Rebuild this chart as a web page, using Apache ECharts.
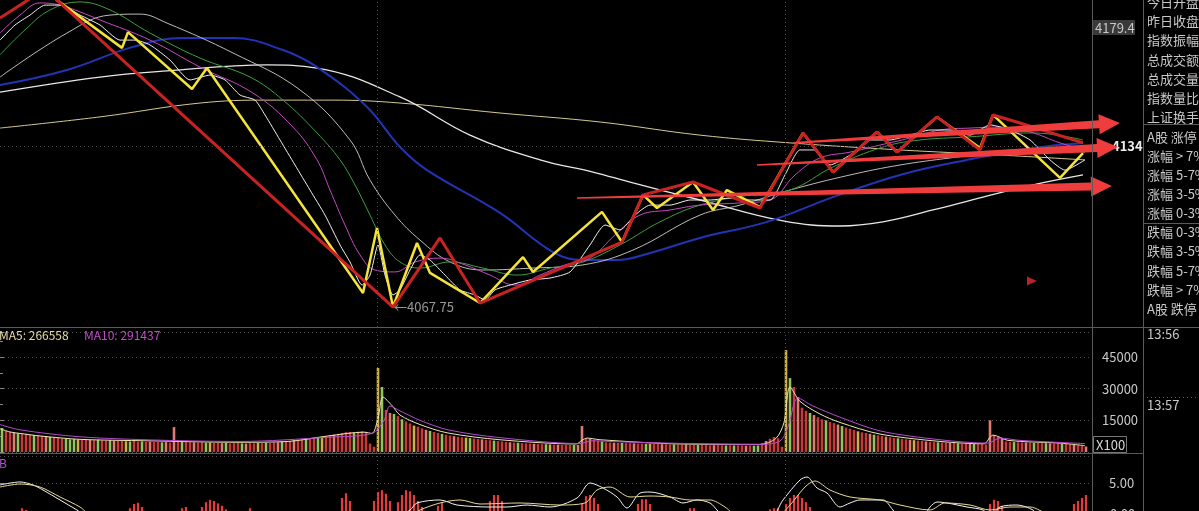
<!DOCTYPE html>
<html><head><meta charset="utf-8">
<script src="https://cdn.jsdelivr.net/npm/echarts@6/dist/echarts.min.js"></script>
<style>html,body{margin:0;padding:0;background:#000;overflow:hidden}#c{width:1199px;height:511px}</style>
</head><body><div id="c"></div>
<script>
// ---------- price panel (x = bar index, y = index points) ----------
const maBeige=[[0,4141.4],[25,4146.0],[50,4151.7],[66.75,4152.9],[83.25,4152.9],[100,4151.7],[125,4147.6],[150,4143.9],[175,4138.5],[197.5,4135.3],[225,4132.4],[250,4130.3],[271.25,4128.3]];
const maWhiteLong=[[0,4156.2],[25,4162.4],[41.75,4164.9],[66.75,4167.4],[79.25,4166.1],[100,4154.2],[117.5,4138.5],[135,4128.3],[148.25,4123.3],[158.25,4118.8],[175,4111.8],[195.75,4103.2],[210,4101.1],[220.75,4102.8],[233.25,4107.7],[245.75,4113.0],[258.25,4118.0],[270.75,4122.1]];
const maWhiteMid=[[0,4162.4],[16.75,4180.5],[27.5,4187.9],[35,4188.3],[41.75,4184.6],[58.25,4172.3],[75,4157.1],[87.5,4136.5],[92.5,4120.0],[98.75,4105.6],[105,4095.3],[112.5,4086.3],[120.75,4083.0],[133.25,4083.8],[145.75,4085.1],[158.25,4091.2],[175,4105.6],[185,4109.7],[197.5,4115.9],[212.5,4122.1],[225,4126.2],[237.5,4129.1],[250,4131.5],[262.5,4132.4],[271.25,4131.5]];
const maBlue=[[0,4159.1],[16.75,4165.3],[33.25,4174.8],[45.75,4178.5],[58.25,4178.5],[70.75,4173.5],[79.25,4166.5],[91.75,4150.1],[100,4133.6],[106.75,4124.1],[125,4106.5],[138.25,4090.4],[145.75,4087.1],[154.25,4087.1],[162.5,4090.0],[175,4096.2],[191.75,4102.8],[208.25,4113.0],[225,4122.1],[241.75,4128.3],[258.25,4133.2],[270.75,4135.3]];
const maGreen=[[0,4171.5],[6.25,4181.8],[12.5,4190.0],[20,4193.3],[27.5,4190.0],[37.5,4180.5],[50,4170.2],[62.5,4162.4],[70.75,4152.9],[79.25,4139.4],[85,4128.3],[88.75,4118.0],[92.5,4105.6],[96.25,4093.3],[100,4086.3],[105,4083.8],[112.5,4086.3],[120.75,4083.8],[129.25,4080.9],[137.5,4083.8],[145.75,4086.3],[155,4093.3],[165,4102.8],[175,4109.7],[187.5,4113.9],[197.5,4115.9],[208.25,4125.4],[220.75,4133.6],[230,4136.5],[241.75,4137.7],[258.25,4139.4],[270.75,4136.5]];
const maPurple=[[0,4180.5],[5,4187.9],[10,4192.9],[15,4192.0],[20,4189.2],[25,4185.9],[37.5,4177.6],[50,4166.5],[63.25,4155.8],[73.25,4141.8],[79.25,4128.3],[82.5,4115.9],[86.25,4101.5],[90,4089.2],[93.75,4083.0],[98.75,4082.2],[103.75,4086.3],[110,4087.9],[116.25,4085.1],[122.5,4080.9],[128.75,4076.8],[135,4080.9],[141.25,4085.1],[147.5,4087.9],[153.75,4097.4],[160,4105.6],[167.5,4107.7],[175,4109.7],[185,4110.6],[192.5,4111.8],[198.75,4122.1],[205,4129.1],[212.5,4131.5],[220,4134.4],[227.5,4137.3],[235,4140.6],[242.5,4141.4],[250,4141.8],[257.5,4139.8],[265,4135.3],[271.25,4132.4]];
const priceLine=[[0,4177.6],[3.75,4183.8],[7.5,4187.9],[11.25,4192.0],[15,4192.0],[20,4187.9],[25,4183.8],[30,4177.6],[33.75,4177.6],[37.5,4175.6],[42.5,4169.4],[47.5,4161.2],[52.5,4163.2],[56.25,4161.2],[60,4155.0],[63.75,4152.9],[66.25,4146.8],[70,4136.5],[73.75,4126.2],[77.5,4115.9],[81.25,4105.6],[85,4093.3],[87.5,4086.3],[90.5,4076.8],[92.5,4080.9],[94.5,4093.3],[96.25,4080.9],[98.25,4072.7],[100,4074.8],[102.5,4083.0],[105,4089.2],[107.5,4087.1],[111.25,4080.9],[115,4074.8],[118.75,4072.7],[121.25,4070.7],[123.75,4074.8],[127.5,4076.8],[132.5,4078.9],[137.5,4079.7],[142.5,4082.2],[147.5,4093.3],[151.25,4101.5],[155,4099.5],[158.75,4105.6],[162.5,4109.7],[167.5,4109.7],[172.5,4111.8],[177.5,4111.8],[182.5,4112.6],[187.5,4111.8],[192.5,4111.8],[196.25,4122.1],[200,4132.4],[203.75,4132.4],[207.5,4126.2],[212.5,4130.3],[217.5,4136.5],[222.5,4136.5],[227.5,4138.5],[232.5,4140.6],[237.5,4140.6],[242.5,4138.5],[247.5,4142.7],[252.5,4140.6],[257.5,4136.5],[262.5,4128.3],[266.25,4124.1],[271.25,4128.3]];
const strokeYellow=[[12.5,4196.2],[30.5,4174.4],[32,4180.9],[48,4157.5],[51.75,4166.1],[90.75,4073.5],[94.25,4100.3],[98.25,4067.75],[104.25,4094.1],[107.5,4081.8],[120,4069.4],[130.75,4088.3],[133.25,4082.2],[150.5,4106.9],[155.5,4094.5],[160.75,4113.9],[164.25,4108.5],[173.25,4119.2],[178.25,4107.7],[181.75,4115.9],[190,4108.9],[200.75,4139.4],[208.25,4123.3],[219.25,4139.8],[224.25,4131.5],[234.25,4146.0],[245,4133.2],[248.25,4146.8],[265,4120.9],[270.75,4131.1]];
const strokeRed=[[12.5,4196.7],[98.25,4067.75],[110,4096.2],[120,4069.4],[155.5,4094.5],[160.75,4113.9],[173.25,4119.2],[190,4108.5],[200.75,4139.4],[208.25,4123.3],[219.25,4139.8],[224.25,4131.5],[234.25,4146.0],[245,4132.4],[248.25,4146.8],[255,4143.5],[270.75,4135.3]];
const strokeRedTop=[[0,4186.7],[7,4194.1],[8.75,4196.6]];
const arrows=[[198.25,4135.3,280,4143.5],[189.25,4126.2,279.5,4133.6],[144.25,4112.6,278,4117.6]];
const lowPoint=[98.25,4067.75];
const lowLabel='←4067.75';
const lastLabel=4134;
const topLabel='4179.4';
const marker=[258,4078.5];
const dayStarts=[94.25,196.25];

// ---------- volume panel ----------
const volume=[11400,10000,9500,9000,8800,8500,8600,8200,8000,7800,7600,7400,7200,7000,6800,
6400,6200,6000,6100,5900,5800,6000,5700,5600,5800,5500,5400,5600,5300,5200,5400,5100,5000,5200,4900,5000,4800,4900,
4700,4800,4600,4700,4500,11800,
5200,5000,4800,4700,4600,4500,4600,4400,4500,4300,4400,4200,4300,4100,4200,4300,4100,4000,4200,4100,4300,4200,4400,4300,4500,4600,4800,5000,5200,
5600,5900,6200,6400,6600,6800,7000,7200,7500,7800,
8200,8600,9000,9400,9500,9200,9600,9800,9400,
4000,2500,39800,30800,20000,18500,18000,17000,15500,14500,13500,
12500,12000,11200,10500,10000,9500,9000,8600,8200,7800,
7500,7200,7000,6800,6600,6400,6200,6000,5800,5600,5400,5200,5000,
4800,4600,4500,4400,4200,4100,4000,3900,3800,3700,3700,3600,3500,3500,3400,3400,3300,3300,3400,
12300,6600,6200,5800,5400,5000,
4600,4500,4400,4300,4300,4200,4200,4100,4000,4000,3900,3900,3800,3800,3700,3700,3600,3600,3500,3500,3500,3400,3400,3300,3300,
3300,3200,3200,3300,3200,3100,3200,3100,3200,3100,3000,3100,3000,3100,
4200,5200,6200,7100,6500,2500,48300,35000,30800,26000,
21000,19500,18500,17500,16500,15500,15000,14200,
13700,13000,12300,11600,11000,10400,9800,9300,9000,8600,
8200,7900,7600,7300,7000,6700,6500,6200,6000,5800,5600,5400,5200,
5000,4800,4700,4600,4500,4400,4300,4200,4100,4000,3900,3900,3800,3800,3700,3600,
15000,8000,7200,6600,
5000,4800,4700,4600,4500,4500,4400,4300,4300,4200,4200,4100,4000,4000,3900,3800,3700,3500,3200,3000,2600];
const volumeColors='grrpgrrrgrrpgrr'+'rgggyrrprgrrgprrygrrgrp'+'rrgpr'+'p'+'rgrrprrgyrrpgrrrgprryrgrrpgrr'+'prrgrrgyrr'+'prrrrgrrr'+'rr'+'y'+'g'+'rpgr'+'grr'+'yrrpgrrgrr'+'prrygrrprrgrr'+'rprgrrrprrgyrprrrgp'+'p'+'rprrg'+'rrprgrrprrgyrrprrgrrprrgr'+'rrprrgrgrrprgg'+'rprrr'+'r'+'y'+'g'+'rp'+'rrgprrgr'+'rpgrrryrrp'+'grrprrgrrpyrr'+'prrgrrprgrrpgrrr'+'p'+'rrp'+'rrgrrprgrrgprrgrrprrp';
const volMa5=[[0,11000],[2.5,9500],[5,8800],[10,7600],[20,6000],[37,5300],[60,4600],[72,5000],[82,7600],[91,9400],[93,8800],[94.5,16000],[95.75,26000],[98,22000],[100,17500],[105,13000],[112,9000],[125,5800],[144,3800],[145.5,5500],[146.75,6600],[150,5800],[170,3800],[190,3600],[194,6500],[196,14000],[197.5,30800],[200,24000],[205,18000],[210,14000],[220,8500],[235,5000],[246,3900],[247.5,7000],[248.25,8000],[252,5500],[265,4200],[271.25,3000]];
const volMa10=[[0,13000],[5,10500],[20,7200],[40,5600],[60,5000],[82,7000],[93,8800],[96,15000],[97.5,21800],[100,19500],[105,15000],[112,10500],[125,6800],[145,4000],[148,5300],[155,4800],[170,4100],[190,3600],[195,5200],[197,12000],[199.5,25600],[203,22000],[210,16500],[220,10000],[235,5800],[247,4200],[250,6600],[255,5500],[271.25,4000]];
const volLegend=['MA5: 266558','MA10: 291437'];

// ---------- MACD panel ----------
const macdHist=[[5,0.8],[6,0.5],[32,0.8],[33,1.5],[34,1.7],[35,1.0],[45,0.8],[46,1.0],[50,1.0],[51,1.8],[52,2.2],[53,2.0],[54,1.6],[55,1.2],[56,0.6],[62,0.8],[85,2.5],[86,3.3],[87,2.0],[93,2.0],[94,3.5],[95,3.8],[96,3.2],[97,2.0],[99,1.8],[100,3.0],[101,3.8],[102,3.6],[103,3.0],[104,2.0],[105,1.0],[109,1.2],[110,1.7],[122,2.0],[123,3.0],[124,3.0],[125,2.0],[145,1.5],[146,2.8],[147,3.0],[148,2.5],[149,1.5],[159,1.5],[160,2.3],[161,2.3],[162,1.5],[172,0.8],[173,0.8],[192,0.6],[193,0.8],[194,0.8],[196,1.5],[197,2.5],[198,3.0],[199,3.0],[200,2.5],[201,1.8],[202,1.0],[247,1.5],[248,2.2],[249,2.0],[250,1.2],[268,1.5],[269,2.0],[270,2.5],[271,3.0]];
const macdDif=[[0,4.67],[5,5.17],[8.25,4.67],[10.75,3.83],[15,2.17],[19.25,0.5],[22.5,-0.8],[98.75,-0.8],[102.5,0.5],[104.25,1.67],[110,2.17],[114.25,1.33],[122.5,1.0],[126.75,1.0],[131.75,1.33],[137.5,1.0],[144.25,2.5],[147.5,5.0],[150.75,4.17],[154.25,2.67],[156.75,0.83],[160,3.33],[162.5,3.5],[167.5,2.67],[170.75,1.67],[174.25,2.17],[177.5,1.67],[179.25,0.5],[181.25,-0.8],[192.5,-0.8],[195.75,2.17],[200,5.5],[201.75,6.0],[204.25,4.17],[206.75,3.33],[210,1.0],[212.5,1.67],[215,2.17],[220.75,2.17],[223.25,0.5],[225,-0.8],[230.5,-0.8],[232.5,1.0],[234.25,1.83],[236.75,1.67],[241.75,1.0],[245.75,0.5],[247.5,-0.5],[250,1.0],[254.25,1.33],[258.25,0.5],[260,-0.8],[271.25,-0.8]];
const macdDea=[[0,4.33],[5,4.83],[10,4.33],[15,2.67],[20,1.0],[23.75,-0.8],[101.25,-0.8],[105,0.5],[110,1.67],[115,2.17],[120,1.5],[130,1.67],[140,1.33],[146.25,1.67],[149.25,3.83],[152.5,4.33],[157.5,2.67],[162.5,2.83],[167.5,2.67],[172.5,2.17],[177.5,2.17],[181.25,1.0],[185,-0.8],[193.75,-0.8],[197.5,1.33],[201.25,4.33],[203.75,5.33],[207.5,3.83],[212.5,2.67],[220,2.17],[225,1.33],[232.5,0.5],[236.25,1.67],[242.5,1.33],[247.5,0.5],[252.5,1.0],[257.5,1.0],[262.5,-0.3],[271.25,-0.8]];
const macdZeroLabel='0.00';

// ---------- side panel ----------
const infoRows1=['今日开盘','昨日收盘','指数振幅','总成交额','总成交量','指数量比','上证换手'];
const infoRows2=['A股 涨停','涨幅 > 7%','涨幅 5-7%','涨幅 3-5%','涨幅 0-3%'];
const infoRows3=['跌幅 0-3%','跌幅 3-5%','跌幅 5-7%','跌幅 > 7%','A股 跌停'];
const timeRows=['13:56','13:57'];

// ================= build =================
const FONT='"Noto Sans CJK SC","Noto Sans",sans-serif';
const pal={r:'#c63a3a',p:'#e27a72',g:'#8fc45e',y:'#cdb04c'};
const volData=volume.map((v,i)=>({value:[i+0.5,v],itemStyle:{color:pal[volumeColors[i]]||pal.r}}));
const histData=macdHist.map(d=>[d[0]+0.5,d[1]]);
const dotted={type:[1,3],color:'#4a4a4a',width:1};
function vlines(){return {silent:true,symbol:'none',label:{show:false},lineStyle:dotted,data:dayStarts.map(x=>({xAxis:x}))};}
function L(data,color,width,z,smooth){return {type:'line',data:data,xAxisIndex:0,yAxisIndex:0,showSymbol:false,smooth:smooth===undefined?0.4:smooth,lineStyle:{color:color,width:width},itemStyle:{color:color},z:z||2,silent:true};}

const graphic=[];
function gl(x1,y1,x2,y2,c,dash){graphic.push({type:'line',silent:true,shape:{x1:x1,y1:y1,x2:x2,y2:y2},style:{stroke:c,lineWidth:1,lineDash:dash||null},z:50});}
function gt(t,x,y,c,size,align){graphic.push({type:'text',silent:true,x:x,y:y,style:{text:t,fill:c,font:(size||13)+'px '+FONT,verticalAlign:'middle',align:align||'left'},z:60});}
gl(1092.5,0,1092.5,511,'#5a5a5a');
gl(1143.5,0,1143.5,511,'#5a5a5a');
gl(0,327.5,1199,327.5,'#5a5a5a');
gl(0,453.5,1143,453.5,'#5a5a5a');
gl(1143,124.5,1199,124.5,'#5a5a5a');
gl(1143,223.5,1199,223.5,'#5a5a5a');
gl(1143,397.5,1199,397.5,'#555',[1,3]);
graphic.push({type:'rect',silent:true,shape:{x:1093,y:20,width:42,height:15},style:{fill:'#3a3a3a'},z:55});
gt(topLabel,1095,28,'#c8c8c8',13);
graphic.push({type:'rect',silent:true,shape:{x:1093.5,y:436.5,width:33,height:16},style:{fill:'#000',stroke:'#777',lineWidth:1},z:55});
gt('X100',1096,445,'#d8d8d8',13);
gt(macdZeroLabel,1110,514,'#c8c8c8',13);
infoRows1.forEach((t,k)=>gt(t,1147,2+k*19.2,'#c8c8c8',13));
infoRows2.forEach((t,k)=>gt(t,1147,137+k*19.1,'#c8c8c8',13));
infoRows3.forEach((t,k)=>gt(t,1147,232+k*19.3,'#c8c8c8',13));
gt(timeRows[0],1147,334,'#c8c8c8',13);
gt(timeRows[1],1147,405,'#c8c8c8',13);
gt(volLegend[0],-1,335,'#e6dca8',12);
gt(volLegend[1],84,335,'#c84ad0',12);
gt('B',-1,463,'#b050d0',12);

const option={
  backgroundColor:'#000',
  animation:false,
  textStyle:{fontFamily:FONT},
  grid:[
    {left:0,top:0,width:1092,height:327,outerBoundsMode:'none',containLabel:false},
    {left:0,top:332,width:1092,height:120,outerBoundsMode:'none',containLabel:false},
    {left:0,top:456,width:1092,height:57,outerBoundsMode:'none',containLabel:false}
  ],
  xAxis:[0,1,2].map(g=>({type:'value',gridIndex:g,min:0,max:273,show:false})),
  yAxis:[
    {type:'value',gridIndex:0,min:4059.54,max:4194.1,show:false,splitLine:{show:false}},
    {type:'value',gridIndex:1,min:0,max:56850,interval:15000,position:'right',
      axisLine:{show:false},axisTick:{show:true,length:4,lineStyle:{color:'#888'}},
      minorTick:{show:true,splitNumber:2,length:3,lineStyle:{color:'#888'}},
      axisLabel:{color:'#c8c8c8',fontSize:13,margin:10,showMaxLabel:false,formatter:v=>v===0?'':String(v)},
      splitLine:{show:true,lineStyle:dotted}},
    {type:'value',gridIndex:2,min:0,max:9.5,interval:5,position:'right',
      axisLine:{show:false},axisTick:{show:true,length:4,lineStyle:{color:'#888'}},
      axisLabel:{color:'#c8c8c8',fontSize:13,margin:17,showMaxLabel:false,showMinLabel:false,formatter:v=>v.toFixed(2)},
      splitLine:{show:true,lineStyle:dotted}}
  ],
  graphic:graphic,
  series:[
    Object.assign(L(maBeige,'#d6c890',1,2),{markLine:{silent:true,symbol:'none',lineStyle:dotted,
      label:{show:true,position:'end',distance:20,color:'#eeeeee',fontSize:13,fontWeight:'bold',formatter:String(lastLabel)},
      data:[{yAxis:lastLabel}].concat(dayStarts.map(x=>({xAxis:x,label:{show:false}})))}}),
    L(maWhiteLong,'#e8e8e8',1.3,2),
    L(maBlue,'#2234b4',2,2),
    L(maWhiteMid,'#d0d0d0',0.9,2),
    L(maGreen,'#3e9e3e',1,2),
    L(maPurple,'#c448c4',1,2),
    L(priceLine,'#f2eeee',1,3,0.2),
    L(strokeYellow,'#f4e43a',2.5,4,false),
    L(strokeRed,'#c92222',3,5,false),
    L(strokeRedTop,'#c92222',3,5,false),
    {type:'custom',xAxisIndex:0,yAxisIndex:0,z:8,silent:true,clip:false,data:arrows,
      renderItem:function(params,api){
        const s=api.coord([api.value(0),api.value(1)]);
        const e=api.coord([api.value(2),api.value(3)]);
        const dx=e[0]-s[0],dy=e[1]-s[1],len=Math.sqrt(dx*dx+dy*dy);
        const ux=dx/len,uy=dy/len,nx=-uy,ny=ux;
        const hl=21,hw=10,w0=0.8,w1=4;
        const bx=e[0]-ux*hl,by=e[1]-uy*hl;
        return {type:'polygon',shape:{points:[
          [s[0]+nx*w0,s[1]+ny*w0],[bx+nx*w1,by+ny*w1],[bx+nx*hw,by+ny*hw],[e[0],e[1]],
          [bx-nx*hw,by-ny*hw],[bx-nx*w1,by-ny*w1],[s[0]-nx*w0,s[1]-ny*w0]]},
          style:{fill:'#ef3d3d'}};
      }},
    {type:'scatter',xAxisIndex:0,yAxisIndex:0,z:9,silent:true,data:[marker],symbol:'triangle',symbolRotate:-90,symbolSize:[9,10],itemStyle:{color:'#e03030'}},
    {type:'scatter',xAxisIndex:0,yAxisIndex:0,z:9,silent:true,data:[lowPoint],symbolSize:0,
      label:{show:true,position:'right',distance:1,formatter:lowLabel,color:'#bdbdbd',fontSize:13}},
    {type:'bar',xAxisIndex:1,yAxisIndex:1,data:volData,barWidth:2.6,silent:true,markLine:vlines()},
    {type:'line',xAxisIndex:1,yAxisIndex:1,data:volMa5,showSymbol:false,smooth:0.3,lineStyle:{color:'#eee4b4',width:1},silent:true,z:4},
    {type:'line',xAxisIndex:1,yAxisIndex:1,data:volMa10,showSymbol:false,smooth:0.3,lineStyle:{color:'#b64ad0',width:1},silent:true,z:4},
    {type:'bar',xAxisIndex:2,yAxisIndex:2,data:histData,barWidth:2.2,itemStyle:{color:'#e23c3c'},silent:true,markLine:vlines()},
    {type:'line',xAxisIndex:2,yAxisIndex:2,data:macdDif,showSymbol:false,smooth:0.3,lineStyle:{color:'#f4f4f4',width:1},silent:true,z:4},
    {type:'line',xAxisIndex:2,yAxisIndex:2,data:macdDea,showSymbol:false,smooth:0.3,lineStyle:{color:'#e8d890',width:1},silent:true,z:4}
  ]
};
const chart=echarts.init(document.getElementById('c'),null,{renderer:'canvas'});
chart.setOption(option);
</script>
</body></html>
